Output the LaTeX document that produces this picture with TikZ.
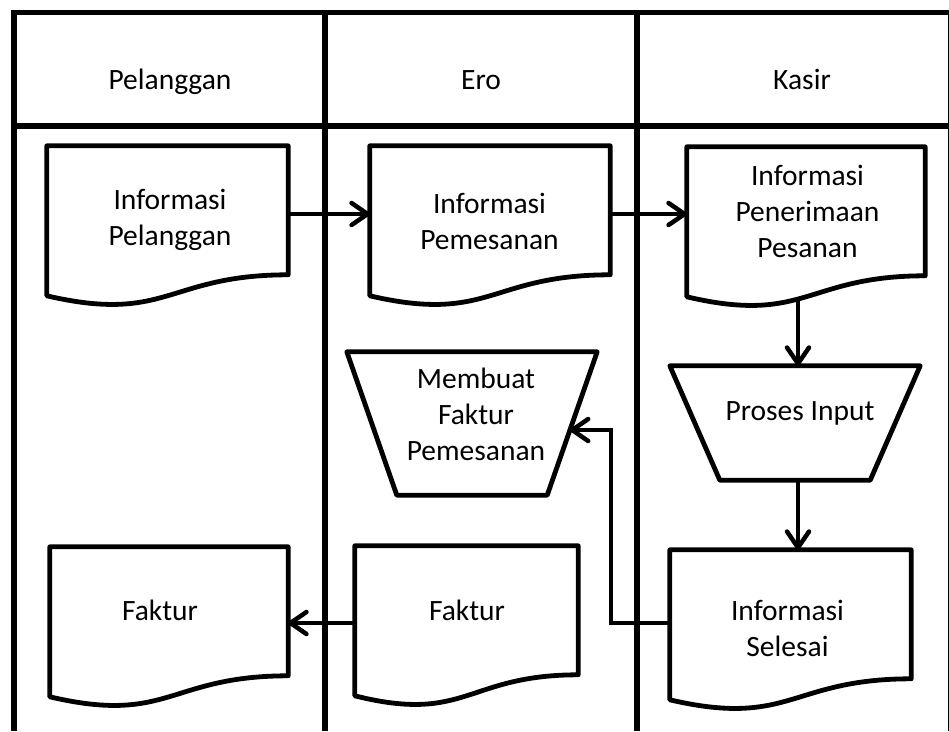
\documentclass[tikz,border=0pt]{standalone}
\usepackage{fontspec}
\setmainfont{Carlito}
\usetikzlibrary{arrows.meta,calc}

% outline of a flowchart "document" symbol around a named reference node
\newcommand\docoutline[1]{%
  \draw[shapeline] (#1.north west) -- (#1.north east)
    -- ([yshift=-129pt]#1.north east)
    .. controls ([yshift=-129pt]#1.north) and ([yshift=-178pt]#1.north) ..
    ([yshift=-150pt]#1.north west) -- cycle;}
% outline of a "manual operation" symbol (wide top, narrow bottom)
\newcommand\manualop[1]{%
  \draw[shapeline] (#1.north west) -- (#1.north east)
    -- ([xshift=-50pt]#1.south east) -- ([xshift=50pt]#1.south west) -- cycle;}

\begin{document}
\begin{tikzpicture}[x=1pt,y=-1pt,
  lane/.style={line width=5.4pt},
  shapeline/.style={line width=4.8pt, line join=round},
  flow/.style={line width=4.5pt, -{Straight Barb[length=16pt,width=22pt,round]}},
  lbl/.style={font=\fontsize{29.5}{36}\selectfont, align=center, inner sep=0pt},
  refbox/.style={draw=none, inner sep=0pt}]
\useasboundingbox (0,0) rectangle (949,731);

% swimlane frame
\draw[lane] (949,12.5) -- (14,12.5) -- (14,731);
\draw[lane] (14,126) -- (949,126);
\draw[lane] (325,12.5) -- (325,731);
\draw[lane] (637,12.5) -- (637,731);
\draw[line width=1pt] (948,12.5) -- (948,731);

% lane titles, sharing one baseline
\node[lbl, anchor=base] (h1) at (170,89) {Pelanggan};
\node[lbl, anchor=base] (h2) at (481,89) {Ero};
\node[lbl, anchor=base] (h3) at (802,89) {Kasir};

% documents
\node[refbox, minimum width=241pt, minimum height=136pt] (ip) at (167.5,214) {};
\node[refbox, minimum width=240pt, minimum height=136pt] (ipm) at (490,214) {};
\node[refbox, minimum width=238pt, minimum height=134pt] (pen) at (806,214) {};
\node[refbox, minimum width=241pt, minimum height=146pt] (sel) at (790.5,623) {};
\node[refbox, minimum width=238pt, minimum height=152pt] (fakP) at (169,623) {};
\node[refbox, minimum width=223pt, minimum height=154pt] (fakE) at (466.5,623) {};
\docoutline{ip}
\docoutline{ipm}
\docoutline{pen}
\docoutline{sel}
\docoutline{fakP}
\docoutline{fakE}
\node[lbl] (ip-t) at (170,220) {Informasi\\Pelanggan};
\node[lbl] (ipm-t) at (489.5,221) {Informasi\\Pemesanan};
\node[lbl] (pen-t) at (807.5,211) {Informasi\\Penerimaan\\Pesanan};
\node[lbl] (sel-t) at (787.5,628) {Informasi\\Selesai};
\node[lbl] (fakP-t) at (160,610) {Faktur};
\node[lbl] (fakE-t) at (467,610) {Faktur};

% manual operations
\node[refbox, minimum width=250pt, minimum height=114pt] (proc) at (795,423) {};
\manualop{proc}
\node[lbl] (proc-t) at (800,413) {Proses Input};
\node[refbox, minimum width=250pt, minimum height=143pt] (mk) at (472,423.5) {};
\manualop{mk}
\node[lbl] (mk-t) at (476,414) {Membuat\\Faktur\\Pemesanan};

% connectors
\draw[flow] (ip.east) -- (ipm.west);
\draw[flow] (ipm.east) -- (pen.west);
\coordinate (pen-out) at ([xshift=-8pt,yshift=-150pt]pen.north);
\draw[flow] (pen-out) -- (pen-out |- proc.north);
\draw[flow] (pen-out |- proc.south) -- (pen-out |- sel.north);
\coordinate (mk-in) at ($(mk.north east)!0.5455!([xshift=-50pt]mk.south east)$);
\draw[flow] (sel.west) -| ([xshift=41pt]mk-in) -- (mk-in);
\draw[flow] (fakE.west) -- (fakP.east);
\end{tikzpicture}
\end{document}
